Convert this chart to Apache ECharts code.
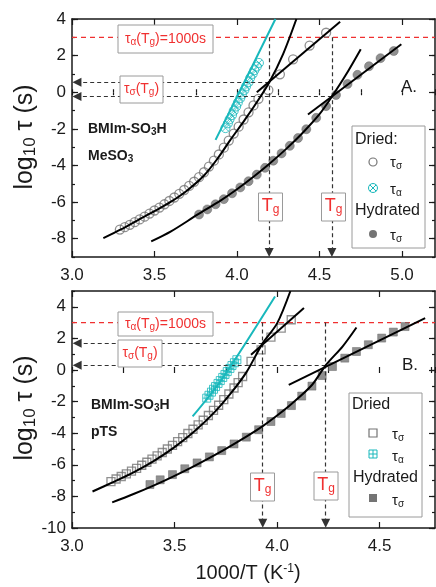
<!DOCTYPE html>
<html>
<head>
<meta charset="utf-8">
<script src="https://cdn.jsdelivr.net/npm/echarts@6/dist/echarts.min.js"></script>
<style>
  html, body { margin: 0; padding: 0; background: #fff; }
  #chart { width: 436px; height: 587px; }
</style>
</head>
<body>
<div id="chart"></div>
<script>
// ---- Panel A: BMIm-SO3H / MeSO3 (1000/T, log10 tau) ----
const aDried = [[3.29,-7.50],[3.32,-7.37],[3.35,-7.24],[3.38,-7.10],[3.41,-6.95],[3.44,-6.80],[3.47,-6.63],
  [3.50,-6.46],[3.53,-6.30],[3.56,-6.12],[3.59,-5.94],[3.62,-5.75],[3.65,-5.55],[3.68,-5.34],[3.71,-5.12],
  [3.74,-4.89],[3.77,-4.64],[3.80,-4.37],[3.83,-4.06],[3.86,-3.74],[3.89,-3.40],[3.92,-3.03],[3.95,-2.64],
  [3.98,-2.26],[4.01,-1.88],[4.04,-1.49],[4.07,-1.10],[4.10,-0.72],[4.13,-0.36],[4.19,0.12],
  [4.26,0.98],[4.34,1.80],[4.44,2.55],[4.54,3.25]];
const aAlpha = [[3.93,-1.96],[3.945,-1.70],[3.955,-1.48],[3.97,-1.25],[3.98,-1.02],[3.995,-0.78],[4.005,-0.57],
  [4.02,-0.32],[4.03,-0.12],[4.045,0.12],[4.055,0.32],[4.07,0.55],[4.08,0.78],[4.095,1.00],[4.105,1.20],
  [4.12,1.40],[4.133,1.60]];
const aHydr = [[3.77,-6.68],[3.82,-6.40],[3.87,-6.12],[3.92,-5.84],[3.97,-5.52],[4.02,-5.20],[4.07,-4.86],
  [4.12,-4.50],[4.17,-4.13],[4.22,-3.74],[4.27,-3.34],[4.32,-2.93],[4.37,-2.50],[4.42,-2.02],[4.48,-1.40],
  [4.54,-0.76],[4.60,-0.15],[4.67,0.45],[4.73,0.95],[4.80,1.42],[4.87,1.86],[4.95,2.25]];
const aDriedFit = [[3.19,-7.97],[3.3,-7.48],[3.4,-6.98],[3.5,-6.5],[3.6,-5.98],[3.7,-5.35],[3.8,-4.55],
  [3.884,-3.6],[3.96,-2.6],[4.044,-1.55],[4.12,-0.55],[4.195,0.53],[4.28,2.1],[4.36,4.0]];
const aDriedLow = [[4.12,0.0],[4.625,3.85]];
const aHydrFit = [[3.48,-8.15],[3.6,-7.6],[3.76,-6.69],[3.9,-5.92],[4.0,-5.3],[4.1,-4.62],[4.2,-3.88],
  [4.3,-3.08],[4.4,-2.2],[4.5,-1.2],[4.575,-0.24],[4.66,0.95],[4.75,2.35]];
const aHydrLow = [[4.43,-1.22],[4.996,2.62]];
const aAlphaFit = [[3.87,-2.6],[4.05,0.65],[4.233,4.0]];
const aTg = [4.195, 4.575];
const aTauTg = [0.55, -0.24];

// ---- Panel B: BMIm-SO3H / pTS ----
const bDried = [[3.19,-7.06],[3.215,-6.90],[3.24,-6.74],[3.265,-6.57],[3.29,-6.40],[3.315,-6.22],[3.34,-6.03],
  [3.365,-5.84],[3.39,-5.64],[3.415,-5.43],[3.44,-5.22],[3.465,-5.00],[3.49,-4.77],[3.515,-4.53],[3.54,-4.28],
  [3.565,-4.02],[3.59,-3.75],[3.615,-3.47],[3.64,-3.18],[3.665,-2.88],[3.69,-2.56],[3.715,-2.23],[3.74,-1.88],
  [3.765,-1.52],[3.79,-1.14],[3.81,-0.80],[3.832,-0.41],[3.873,0.54],[3.922,1.28],[3.97,2.08],[4.02,2.65],[4.069,3.18]];
const bAlpha = [[3.657,-1.78],[3.668,-1.60],[3.68,-1.40],[3.69,-1.22],[3.70,-1.05],[3.712,-0.85],[3.723,-0.67],
  [3.735,-0.47],[3.746,-0.28],[3.757,-0.10],[3.77,0.10],[3.78,0.28],[3.792,0.46],[3.804,0.65]];
const bHydr = [[3.38,-7.25],[3.43,-6.95],[3.49,-6.62],[3.55,-6.25],[3.61,-5.88],[3.67,-5.50],[3.73,-5.10],
  [3.79,-4.68],[3.85,-4.25],[3.91,-3.78],[3.97,-3.26],[4.02,-2.75],[4.07,-2.25],[4.12,-1.65],[4.17,-1.02],
  [4.22,-0.35],[4.27,0.22],[4.33,0.75],[4.387,1.17],[4.445,1.60],[4.51,2.02],[4.567,2.40],[4.624,2.75]];
const bDriedFit = [[3.1,-7.69],[3.2,-7.1],[3.3,-6.48],[3.4,-5.75],[3.5,-4.88],[3.6,-3.85],[3.7,-2.6],
  [3.77,-1.55],[3.85,-0.15],[3.93,1.7],[4.0,2.95],[4.065,5.0]];
const bDriedLow = [[3.873,0.96],[4.131,3.92]];
const bHydrFit = [[3.196,-8.38],[3.3,-7.85],[3.4,-7.3],[3.49,-6.76],[3.6,-6.05],[3.735,-5.1],[3.85,-4.22],
  [3.93,-3.55],[4.0,-2.88],[4.07,-2.15],[4.17,-0.95],[4.237,0.3],[4.32,1.5],[4.387,2.69]];
const bHydrLow = [[4.057,-0.94],[4.722,3.28]];
const bAlphaFit = [[3.588,-2.94],[3.73,-0.6],[3.99,4.65]];
const bTg = [3.93, 4.237];
const bTauTg = [1.7, 0.3];

// axis ticks
const aXTicks = [3.0, 3.5, 4.0, 4.5, 5.0];
const bXTicks = [3.0, 3.5, 4.0, 4.5];
const aYTicks = [-8, -6, -4, -2, 0, 2, 4];
const bYTicks = [-10, -8, -6, -4, -2, 0, 2, 4];
const tauTarget = 3; // log10(1000 s)

const FONT = 'Arial, "Liberation Sans", sans-serif';
const RED = '#f03030';
const CYAN = '#18b8bc';
const GRAY = '#747474';
const INK = '#1a1a1a';

const chart = echarts.init(document.getElementById('chart'));

function axisPair(grid, pos, min, max, majors, step, withLabels, fmt) {
  const major = {
    type: 'value', gridIndex: grid, position: pos, min, max, interval: step,
    axisLine: { show: true, onZero: false, lineStyle: { color: INK, width: 1.5 } },
    axisTick: { show: true, inside: true, length: 6, customValues: majors, lineStyle: { color: INK, width: 1.2 } },
    axisLabel: withLabels
      ? { show: true, customValues: majors, formatter: fmt, color: INK, fontSize: 17, fontFamily: FONT, margin: pos === 'left' ? 6 : 10 }
      : { show: false },
    splitLine: { show: false }
  };
  const minor = {
    type: 'value', gridIndex: grid, position: pos, min, max, interval: step,
    axisLine: { show: false },
    axisTick: { show: true, inside: true, length: 3, lineStyle: { color: INK, width: 1.2 } },
    axisLabel: { show: false },
    splitLine: { show: false }
  };
  return [major, minor];
}

const fmtX = v => v.toFixed(1);
const fmtY = v => String(v);

const xAxes = [
  ...axisPair(0, 'bottom', 3, 5.2, aXTicks, 0.25, true, fmtX),
  ...axisPair(0, 'top', 3, 5.2, aXTicks, 0.25, false),
  ...axisPair(1, 'bottom', 3, 4.77, bXTicks, 0.25, true, fmtX),
  ...axisPair(1, 'top', 3, 4.77, bXTicks, 0.25, false)
];
const yAxes = [
  ...axisPair(0, 'left', -9, 4, aYTicks, 1, true, fmtY),
  ...axisPair(0, 'right', -9, 4, aYTicks, 1, false),
  ...axisPair(1, 'left', -10, 5, bYTicks, 1, true, fmtY),
  ...axisPair(1, 'right', -10, 5, bYTicks, 1, false)
];

function scatter(data, xi, symbol, size, itemStyle) {
  return { type: 'scatter', xAxisIndex: xi, yAxisIndex: xi, data, symbol, symbolSize: size,
    itemStyle, silent: true, z: 3 };
}
function curve(data, xi, color, smooth) {
  return { type: 'line', xAxisIndex: xi, yAxisIndex: xi, data, symbol: 'none', showSymbol: false,
    smooth: smooth ? 0.3 : false, lineStyle: { color, width: 2 }, silent: true, z: 5 };
}
function guides(xi, tg, tau, xMin, xMax, yMin, dx, dy) {
  const lines = [];
  tg.forEach((t, i) => {
    lines.push([{ coord: [t, tauTarget] }, { coord: [t, yMin + dy] }]);
    lines.push([{ coord: [t, tau[i]] }, { coord: [xMin + dx, tau[i]] }]);
  });
  return [
    { type: 'line', xAxisIndex: xi, yAxisIndex: xi, data: [[xMin, tauTarget], [xMax, tauTarget]],
      symbol: 'none', lineStyle: { color: RED, width: 1.2, type: [5, 4] }, silent: true, z: 2 },
    { type: 'line', xAxisIndex: xi, yAxisIndex: xi, data: [], silent: true, z: 2,
      markLine: { silent: true, animation: false, symbol: ['none', 'triangle'], symbolSize: 9,
        label: { show: false }, lineStyle: { color: '#333', width: 1.2, type: [4, 3] },
        itemStyle: { color: '#111' }, emphasis: { disabled: true }, data: lines } }
  ];
}

const openStyle = { color: 'rgba(0,0,0,0)', borderColor: GRAY, borderWidth: 1.3 };
const fillStyle = { color: GRAY, borderColor: '#666', borderWidth: 0.6 };
const alphaStyle = { color: 'rgba(0,0,0,0)', borderColor: CYAN, borderWidth: 1 };
const crossCircle = 'path://M10,0A10,10,0,1,1,-10,0A10,10,0,1,1,10,0ZM-7.07,-7.07L7.07,7.07M7.07,-7.07L-7.07,7.07';
const plusSquare = 'path://M-10,-10L10,-10L10,10L-10,10ZM0,-10L0,10M-10,0L10,0';

// xAxis/yAxis index 0 = panel A, 4 = panel B
const series = [
  ...guides(0, aTg, aTauTg, 3, 5.2, -9, 0.03, 0.25),
  scatter(aDried, 0, 'circle', 9, openStyle),
  scatter(aHydr, 0, 'circle', 9, fillStyle),
  scatter(aAlpha, 0, crossCircle, 9, alphaStyle),
  curve(aDriedFit, 0, '#000', true),
  curve(aDriedLow, 0, '#000', false),
  curve(aHydrFit, 0, '#000', true),
  curve(aHydrLow, 0, '#000', false),
  curve(aAlphaFit, 0, CYAN, true),

  ...guides(4, bTg, bTauTg, 3, 4.77, -10, 0.025, 0.3),
  scatter(bDried, 4, 'rect', 8, openStyle),
  scatter(bHydr, 4, 'rect', 8, fillStyle),
  scatter(bAlpha, 4, plusSquare, 8, alphaStyle),
  curve(bDriedFit, 4, '#000', true),
  curve(bDriedLow, 4, '#000', false),
  curve(bHydrFit, 4, '#000', true),
  curve(bHydrLow, 4, '#000', false),
  curve(bAlphaFit, 4, CYAN, true)
];

// ---- text annotations ----
function rich(fs, color, bold) {
  const w = bold ? 'bold' : 'normal';
  return {
    t: { fontSize: fs, fill: color, fontFamily: FONT, fontWeight: w },
    s: { fontSize: Math.round(fs * 0.68), fill: color, fontFamily: FONT, fontWeight: w, padding: [Math.round(fs * 0.45), 0, 0, 0] },
    p: { fontSize: Math.round(fs * 0.62), fill: color, fontFamily: FONT, fontWeight: w, padding: [0, 0, Math.round(fs * 0.45), 0] }
  };
}
function txt(x, y, text, fs, color, opt) {
  opt = opt || {};
  const el = { type: 'text', x, y, silent: true, z: 110,
    style: { text, rich: rich(fs, color, opt.bold), align: opt.align || 'left', verticalAlign: 'middle' } };
  if (opt.rotation) el.rotation = opt.rotation;
  return el;
}
function box(x, y, w, h) {
  return { type: 'rect', silent: true, z: 100, shape: { x, y, width: w, height: h },
    style: { fill: '#fff', stroke: '#9a9a9a', lineWidth: 1 } };
}
function mark(kind, cx, cy) {
  if (kind === 'openCircle') return [{ type: 'circle', z: 110, silent: true, shape: { cx, cy, r: 4 }, style: { fill: 'none', stroke: GRAY, lineWidth: 1.2 } }];
  if (kind === 'dot') return [{ type: 'circle', z: 110, silent: true, shape: { cx, cy, r: 4 }, style: { fill: GRAY } }];
  if (kind === 'openSquare') return [{ type: 'rect', z: 110, silent: true, shape: { x: cx - 4, y: cy - 4, width: 8, height: 8 }, style: { fill: 'none', stroke: GRAY, lineWidth: 1.2 } }];
  if (kind === 'square') return [{ type: 'rect', z: 110, silent: true, shape: { x: cx - 4, y: cy - 4, width: 8, height: 8 }, style: { fill: GRAY } }];
  const cs = { stroke: CYAN, lineWidth: 1, fill: 'none' };
  if (kind === 'crossCircle') return [
    { type: 'circle', z: 110, silent: true, shape: { cx, cy, r: 4.5 }, style: cs },
    { type: 'line', z: 110, silent: true, shape: { x1: cx - 3.2, y1: cy - 3.2, x2: cx + 3.2, y2: cy + 3.2 }, style: cs },
    { type: 'line', z: 110, silent: true, shape: { x1: cx + 3.2, y1: cy - 3.2, x2: cx - 3.2, y2: cy + 3.2 }, style: cs }
  ];
  return [
    { type: 'rect', z: 110, silent: true, shape: { x: cx - 4, y: cy - 4, width: 8, height: 8 }, style: cs },
    { type: 'line', z: 110, silent: true, shape: { x1: cx, y1: cy - 4, x2: cx, y2: cy + 4 }, style: cs },
    { type: 'line', z: 110, silent: true, shape: { x1: cx - 4, y1: cy, x2: cx + 4, y2: cy }, style: cs }
  ];
}

const tauA = '{t|τ}{s|α}';
const tauS = '{t|τ}{s|σ}';
const graphics = [
  // panel A
  box(118, 25, 95, 28), txt(165.5, 39, '{t|τ}{s|α}{t|(T}{s|g}{t|)=1000s}', 14, RED, { align: 'center' }),
  box(120, 76, 43, 27), txt(141.5, 89.5, '{t|τ}{s|σ}{t|(T}{s|g}{t|)}', 14, RED, { align: 'center' }),
  box(258.5, 193, 24, 28), txt(270.5, 206, '{t|T}{s|g}', 18, RED, { align: 'center' }),
  box(321.5, 193, 24, 28), txt(333.5, 206, '{t|T}{s|g}', 18, RED, { align: 'center' }),
  txt(401, 87, '{t|A.}', 17, INK),
  txt(88, 129, '{t|BMIm-SO}{s|3}{t|H}', 14, INK, { bold: true }),
  txt(88, 156, '{t|MeSO}{s|3}', 14, INK, { bold: true }),
  box(352, 126, 73, 122),
  txt(355, 140, '{t|Dried:}', 16, INK),
  ...mark('openCircle', 373, 162), txt(390, 163, tauS, 15, INK),
  ...mark('crossCircle', 373, 188), txt(390, 190, tauA, 15, INK),
  txt(355, 211, '{t|Hydrated}', 16, INK),
  ...mark('dot', 373, 234), txt(390, 236, tauS, 15, INK),
  txt(25, 137, '{t|log}{s|10}{t| τ (s)}', 25, INK, { align: 'center', rotation: Math.PI / 2 }),

  // panel B
  box(118, 312, 95, 24), txt(165.5, 324, '{t|τ}{s|α}{t|(T}{s|g}{t|)=1000s}', 14, RED, { align: 'center' }),
  box(118, 340, 44, 27), txt(140, 353.5, '{t|τ}{s|σ}{t|(T}{s|g}{t|)}', 14, RED, { align: 'center' }),
  box(250.5, 473, 24, 28), txt(262.5, 486, '{t|T}{s|g}', 18, RED, { align: 'center' }),
  box(314, 472, 24, 28), txt(326, 485, '{t|T}{s|g}', 18, RED, { align: 'center' }),
  txt(402, 365, '{t|B.}', 17, INK),
  txt(91, 405, '{t|BMIm-SO}{s|3}{t|H}', 14, INK, { bold: true }),
  txt(91, 432, '{t|pTS}', 14, INK, { bold: true }),
  box(349, 393, 73, 124),
  txt(352, 405, '{t|Dried}', 16, INK),
  ...mark('openSquare', 373, 433), txt(392, 435, tauS, 15, INK),
  ...mark('plusSquare', 373, 454), txt(392, 457, tauA, 15, INK),
  txt(353, 478, '{t|Hydrated}', 16, INK),
  ...mark('square', 373, 498), txt(392, 501, tauS, 15, INK),
  txt(25, 408, '{t|log}{s|10}{t| τ (s)}', 25, INK, { align: 'center', rotation: Math.PI / 2 }),
  txt(248, 573, '{t|1000/T (K}{p|-1}{t|)}', 20, INK, { align: 'center' })
];

chart.setOption({
  animation: false,
  backgroundColor: '#fff',
  grid: [
    { left: 72, top: 19, width: 363, height: 238 },
    { left: 72, top: 291, width: 363, height: 237 }
  ],
  xAxis: xAxes,
  yAxis: yAxes,
  series,
  graphic: { elements: graphics }
});
</script>
</body>
</html>
